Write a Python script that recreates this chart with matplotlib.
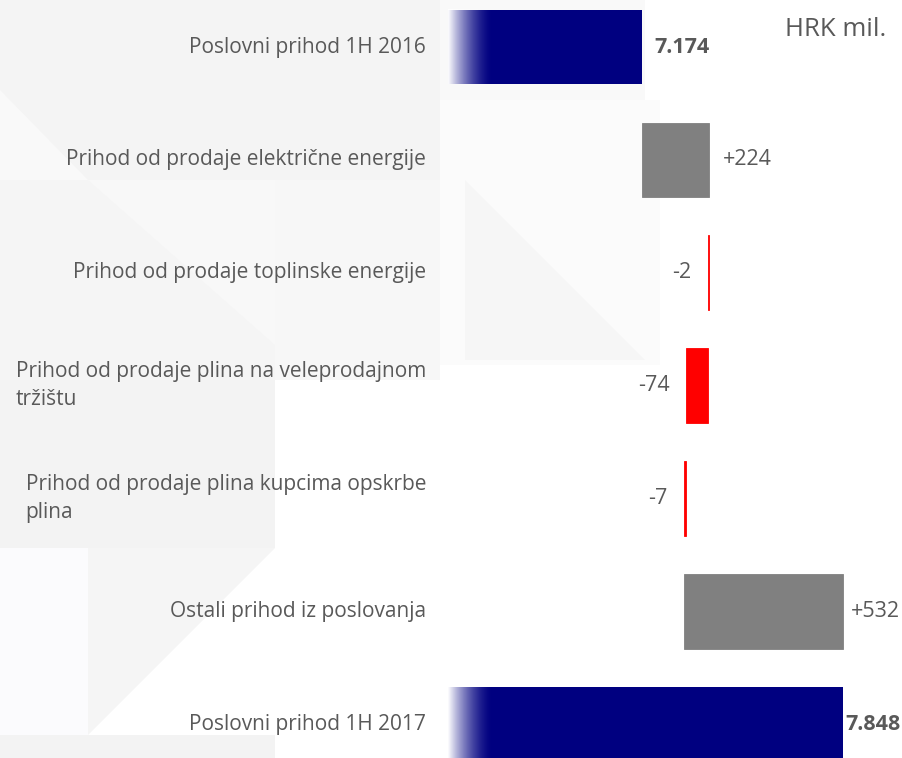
import numpy as np
import matplotlib.pyplot as plt
from matplotlib.patches import Polygon
from matplotlib.transforms import blended_transform_factory

plt.rcParams['font.family'] = ['Open Sans', 'DejaVu Sans']

# 数据
categories = [
    'Poslovni prihod 1H 2016',
    'Prihod od prodaje električne energije',
    'Prihod od prodaje toplinske energije',
    'Prihod od prodaje plina na veleprodajnom\ntržištu',
    'Prihod od prodaje plina kupcima opskrbe\nplina',
    'Ostali prihod iz poslovanja',
    'Poslovni prihod 1H 2017',
]
start_value = 7174
deltas = [224, -2, -74, -7, 532]
end_value = 7848
value_labels = ['7.174', '+224', '-2', '-74', '-7', '+532', '7.848']
unit_label = 'HRK mil.'

navy = '#000080'
grey = '#808080'
red = '#ff0000'
text_col = '#595959'

W, H = 902, 758
fig = plt.figure(figsize=(W / 100, H / 100), dpi=100)
fig.patch.set_facecolor('white')

# 背景几何图形（像素坐标，y 从上往下）
def px_poly(pts, color):
    xy = [(x / W, 1 - y / H) for x, y in pts]
    fig.patches.append(Polygon(xy, closed=True, transform=fig.transFigure,
                               facecolor=color, edgecolor='none', zorder=-10))

px_poly([(0, 0), (440, 0), (440, 180), (0, 180)], '#f4f4f4')
px_poly([(0, 90), (88, 180), (0, 180)], '#f9f9f9')
px_poly([(0, 180), (440, 180), (440, 380), (0, 380)], '#f5f5f5')
px_poly([(88, 180), (275, 180), (275, 345)], '#f8f8f8')
px_poly([(275, 180), (440, 180), (440, 380), (275, 380)], '#f7f7f7')
px_poly([(0, 380), (275, 380), (275, 548), (0, 548)], '#f3f3f3')
px_poly([(88, 548), (275, 548), (88, 735)], '#f5f5f5')
px_poly([(0, 548), (88, 548), (88, 735), (0, 735)], '#fbfbfd')
px_poly([(0, 735), (275, 735), (275, 758), (0, 758)], '#f3f3f3')
px_poly([(440, 0), (645, 0), (645, 100), (440, 100)], '#f9f9f9')
px_poly([(440, 100), (660, 100), (660, 365), (440, 365)], '#fbfbfb')
px_poly([(465, 180), (645, 360), (465, 360)], '#f6f6f6')

ax = fig.add_axes([448 / W, 0, 1 - 448 / W, 1])
ax.patch.set_alpha(0)
for s in ax.spines.values():
    s.set_visible(False)
ax.set_xticks([])
ax.set_yticks([])

xmin, xmax = 6525, 8044
ymin, ymax = -0.4166, 6.30
bar_h = 0.66

n = len(categories)
y = np.arange(n)

# 起始柱
ax.barh(y[0], start_value - xmin, left=xmin, height=bar_h, color=navy, zorder=2)

# 变化柱
running = start_value
for i, d in enumerate(deltas):
    c = grey if d > 0 else red
    ax.barh(y[i + 1], d, left=running, height=bar_h, color=c,
            edgecolor=c, linewidth=0.6, zorder=2)
    running += d

# 结束柱
ax.barh(y[-1], end_value - xmin, left=xmin, height=bar_h, color=navy, zorder=2)

# 渐变（白色到透明）
grad = np.zeros((1, 256, 4))
grad[..., :3] = 1.0
t = np.linspace(0, 1, 256)
grad[0, :, 3] = np.clip(1 - t, 0, 1) ** 1.6
for yy in (y[0], y[-1]):
    ax.imshow(grad, extent=(xmin, xmin + 150, yy + bar_h / 2, yy - bar_h / 2),
              aspect='auto', zorder=3, interpolation='bilinear')

ax.set_xlim(xmin, xmax)
ax.set_ylim(ymax, ymin)

val_fs = 15.5
# 数值标签（像素偏移）
offsets = [12, 14, -17, -16, -17, 8, 2]
ax.annotate(value_labels[0], (start_value, y[0]), xytext=(offsets[0], 0),
            textcoords='offset pixels', ha='left', va='center',
            fontsize=val_fs, fontweight='bold', color=text_col)
running = start_value
for i, d in enumerate(deltas):
    edge = running + d
    ax.annotate(value_labels[i + 1], (edge, y[i + 1]), xytext=(offsets[i + 1], 0),
                textcoords='offset pixels', ha='left' if d > 0 else 'right',
                va='center', fontsize=val_fs, color=text_col)
    running += d
ax.annotate(value_labels[-1], (end_value, y[-1]), xytext=(offsets[-1], 0),
            textcoords='offset pixels', ha='left', va='center',
            fontsize=val_fs, fontweight='bold', color=text_col)

# 类别标签
lab_tr = blended_transform_factory(fig.transFigure, ax.transData)
for i, lab in enumerate(categories):
    ax.text(426 / W, y[i], lab, transform=lab_tr,
            ha='right', va='center', ma='left', fontsize=15, color=text_col,
            linespacing=1.45)

fig.text(836 / W, 1 - 29 / H, unit_label, ha='center', va='center',
         fontsize=18.5, color=text_col)

plt.savefig('out.png', dpi=100)
